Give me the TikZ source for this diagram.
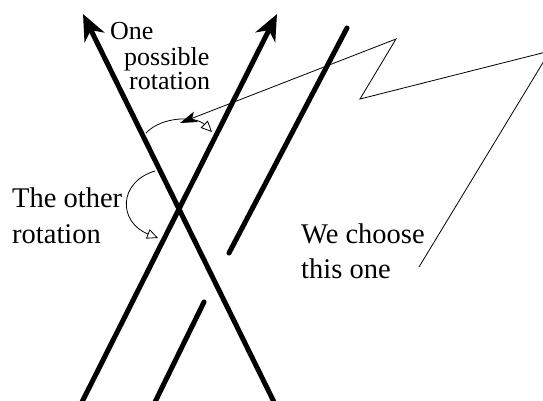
\documentclass[tikz,border=0pt]{standalone}
\usepackage{fontspec}
\setmainfont{Liberation Serif}
\usetikzlibrary{arrows.meta}
\begin{document}
\begin{tikzpicture}[x=1pt,y=-1pt,
  thickline/.style={line width=5pt},
  thinline/.style={line width=0.8pt},
  bigtip/.style={-{Stealth[length=26pt,width=22pt,inset=8pt]}},
  lbl/.style={inner sep=0pt,anchor=base west,font=\fontsize{28.5}{34}\selectfont},
  lblsmall/.style={inner sep=0pt,anchor=base west,font=\fontsize{26}{30}\selectfont},
  opentip/.style={-{Triangle[open,length=11pt,width=10pt,line width=0.8pt]}}]
\useasboundingbox (0,0) rectangle (543,400);
\clip (0,0) rectangle (543,400);
% coordinates
\coordinate (a0) at (274,402);
\coordinate (a1) at (83,14);
\coordinate (b0) at (82,402);
\coordinate (b1) at (277,14);
\coordinate (c0) at (229,253);
\coordinate (c1) at (347,28);
\coordinate (d0) at (155,402);
\coordinate (d1) at (204,302);
\coordinate (z0) at (180,123);
\coordinate (z1) at (396,39);
\coordinate (z2) at (360,99);
\coordinate (z3) at (550,51);
\coordinate (z4) at (419,267);
\coordinate (t0) at (146,133);
\coordinate (t1) at (212,132);
\coordinate (l0) at (155,171);
\coordinate (l1) at (158,238);
% thick lines
\draw[thickline,bigtip] (a0) -- (a1);
\draw[thickline,bigtip] (b0) -- (b1);
\draw[thickline,line cap=round] (c0) -- (c1);
\draw[thickline,line cap=round] (d0) -- (d1);
% zigzag pointer
\draw[thinline,{Stealth[length=17pt,width=11pt,inset=4pt]}-,line join=miter] (z0) -- (z1) -- (z2) -- (z3) -- (z4);
% rotation arcs
\draw[thinline,opentip] (t0) .. controls (162,116) and (196,116) .. (t1);
\draw[thinline,opentip] (l0) .. controls (118,182) and (118,222) .. (l1);
% labels
\node[lblsmall] (one) at (110,39) {One};
\node[lblsmall] (poss) at (124,65) {possible};
\node[lblsmall] (rot1) at (129,89) {rotation};
\node[lbl] (oth) at (12,207) {The other};
\node[lbl] (rot2) at (12,243) {rotation};
\node[lbl] (we) at (301,243) {We choose};
\node[lbl] (this) at (301,278) {this one};
\end{tikzpicture}
\end{document}
